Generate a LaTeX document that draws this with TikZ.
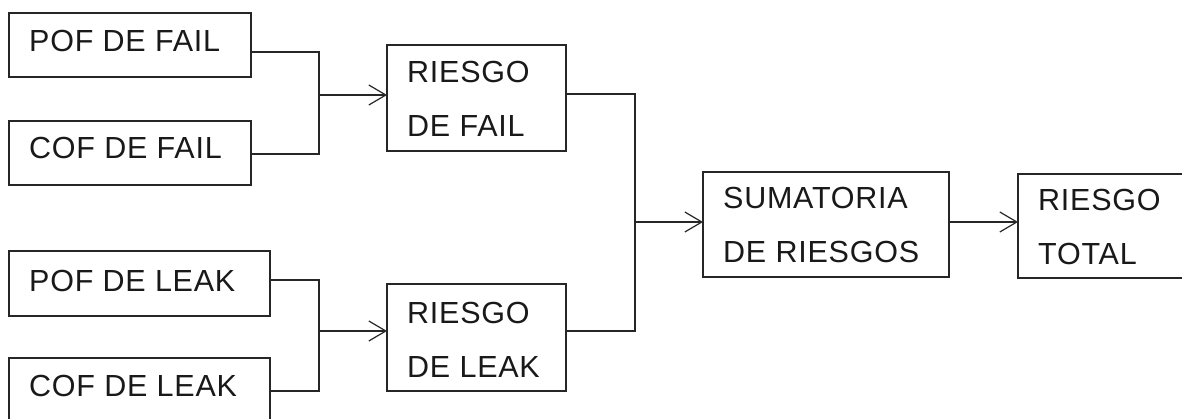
\documentclass[tikz,border=0pt]{standalone}
\usepackage{fontspec}
\setmainfont[LetterSpace=2.5]{Liberation Sans}
\usetikzlibrary{arrows.meta}
\begin{document}
\begin{tikzpicture}[x=1pt,y=-1pt,
  box/.style={draw=black!85,line width=1.5pt,minimum width=#1,inner sep=0pt,outer sep=0pt},
  box/.default=242pt,
  txt/.style={anchor=base west,inner sep=0pt,align=left,font=\fontsize{30.5}{54}\selectfont,text=black!90},
  wire/.style={draw=black!85,line width=1.5pt},
  arr/.style={wire,-{Straight Barb[length=17pt,width=20pt,line width=1.2pt]}}]
\useasboundingbox (0,0) rectangle (1182,419);
\clip (0,0) rectangle (1182,419);
\fill[white] (0,0) rectangle (1182,419);

% input boxes
\node[box=242pt,minimum height=64pt] (pf) at (130,45) {};
\node[box=242pt,minimum height=64pt] (cf) at (130,153) {};
\node[box=261pt,minimum height=65pt] (pl) at (139.5,283.5) {};
\node[box=261pt,minimum height=66pt] (cl) at (139.5,391) {};
\node[txt] (pft) at (29,52) {POF DE FAIL};
\node[txt] (cft) at (29,159) {COF DE FAIL};
\node[txt] (plt) at (29,291) {POF DE LEAK};
\node[txt] (clt) at (29,396) {COF DE LEAK};

% partial risks (base anchor sits on the last line)
\node[box=179pt,minimum height=106pt] (rf) at (476.5,98) {};
\node[box=179pt,minimum height=107pt] (rl) at (476.5,337.5) {};
\node[txt] (rft) at (407,137) {RIESGO\\DE FAIL};
\node[txt] (rlt) at (407,377) {RIESGO\\DE LEAK};

% sum and total
\node[box=246pt,minimum height=105pt] (sr) at (826,224.5) {};
\node[txt] (srt) at (723,263) {SUMATORIA\\DE RIESGOS};
\node[box=200pt,minimum height=104pt] (rt) at (1118,226) {};
\node[txt] (rtt) at (1038,265) {RIESGO\\TOTAL};

% junction points
\coordinate (jf) at (319,95);
\coordinate (jl) at (319,331);
\coordinate (js) at (635,222);

% connectors
\draw[wire] ([yshift=-7pt]pf.east) -| (jf);
\draw[wire] ([yshift=-1pt]cf.east) -| (jf);
\draw[arr] (jf) -- (jf -| rf.west);
\draw[wire] ([yshift=3.5pt]pl.east) -| (jl);
\draw[wire] (cl.east) -| (jl);
\draw[arr] (jl) -- (jl -| rl.west);
\draw[wire] ([yshift=4pt]rf.east) -| (js);
\draw[wire] ([yshift=6.5pt]rl.east) -| (js);
\draw[arr] (js) -- (js -| sr.west);
\draw[arr] (js -| sr.east) -- (js -| rt.west);
\end{tikzpicture}
\end{document}
